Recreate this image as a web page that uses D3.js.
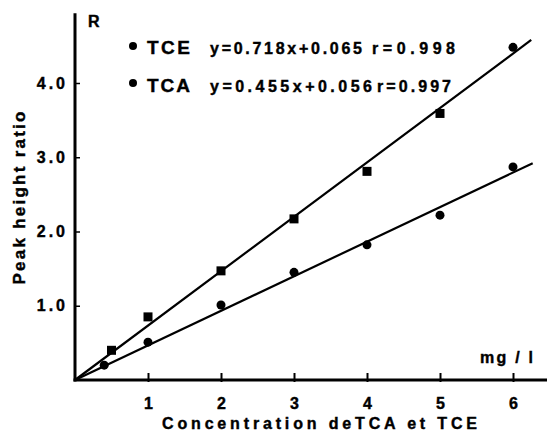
<!DOCTYPE html>
<html>
<head>
<meta charset="utf-8">
<script src="https://cdn.jsdelivr.net/npm/d3@7"></script>
<style>
  html, body { margin: 0; padding: 0; background: #fff; }
  svg { display: block; }
  text { font-family: "Liberation Sans", Arial, sans-serif; font-weight: bold; fill: #000; stroke: #000; stroke-width: 0.4px; }
</style>
</head>
<body>
<script>
const concentrations = [0.5, 1, 2, 3, 4, 5, 6];
const tceValues = [0.40, 0.85, 1.47, 2.17, 2.81, 3.59, 4.48];
const tceShapes = ["square", "square", "square", "square", "square", "square", "circle"];
const tcaConc = [0.4, 1, 2, 3, 4, 5, 6];
const tcaValues = [0.20, 0.51, 1.01, 1.45, 1.82, 2.22, 2.87];

// regression lines as drawn (start, end)
const tceFit = [[0, 0], [6.25, 4.58]];
const tcaFit = [[0, 0], [6.27, 2.92]];

const xTicks = [1, 2, 3, 4, 5, 6];
const yTicks = [1, 2, 3, 4];
const yTickLabels = ["1.0", "2.0", "3.0", "4.0"];

const W = 547, H = 433;

const svg = d3.select("body")
  .append("svg")
  .attr("width", W)
  .attr("height", H);

svg.append("rect").attr("width", W).attr("height", H).attr("fill", "#fff");

const x = d3.scaleLinear().domain([0, 6]).range([75, 513]);
const y = d3.scaleLinear().domain([0, 4]).range([380, 83]);

// axes
const xAxis = svg.append("g")
  .attr("transform", `translate(0,${y(0)})`)
  .call(d3.axisBottom(x).tickValues(xTicks).tickSize(-7).tickPadding(18).tickFormat(d3.format("d")));
xAxis.select(".domain").remove();
xAxis.selectAll(".tick line").attr("stroke", "#000").attr("stroke-width", 2).attr("y2", -7).attr("y1", 2);
xAxis.selectAll(".tick text")
  .attr("font-size", 16)
  .attr("font-family", "Liberation Sans, Arial, sans-serif")
  .attr("font-weight", "bold");

const yAxis = svg.append("g")
  .attr("transform", `translate(${x(0)},0)`)
  .call(d3.axisLeft(y).tickValues(yTicks).tickSize(-5).tickPadding(10).tickFormat((d, i) => yTickLabels[i]));
yAxis.select(".domain").remove();
yAxis.selectAll(".tick line").attr("stroke", "#000").attr("stroke-width", 1.5);
yAxis.selectAll(".tick text")
  .attr("font-size", 16)
  .attr("font-family", "Liberation Sans, Arial, sans-serif")
  .attr("font-weight", "bold")
  .attr("letter-spacing", 3)
  .attr("dx", 3);

// axis lines
svg.append("line")
  .attr("x1", x(0) - 1.5).attr("x2", W)
  .attr("y1", y(0)).attr("y2", y(0))
  .attr("stroke", "#000").attr("stroke-width", 3);
svg.append("line")
  .attr("x1", x(0)).attr("x2", x(0))
  .attr("y1", y(0) + 1.5).attr("y2", y(4.94))
  .attr("stroke", "#000").attr("stroke-width", 3);

// fit lines
const line = d3.line().x(d => x(d[0])).y(d => y(d[1]));
[tceFit, tcaFit].forEach(f => {
  svg.append("path")
    .attr("d", line(f))
    .attr("fill", "none")
    .attr("stroke", "#000")
    .attr("stroke-width", 2.2);
});

// points
const tce = concentrations.map((c, i) => ({ c, v: tceValues[i], s: tceShapes[i] }));
const tca = tcaConc.map((c, i) => ({ c, v: tcaValues[i] }));

svg.selectAll("rect.tce")
  .data(tce.filter(d => d.s === "square"))
  .enter()
  .append("rect")
  .attr("class", "tce")
  .attr("x", d => x(d.c) - 4.5)
  .attr("y", d => y(d.v) - 4.5)
  .attr("width", 9)
  .attr("height", 9)
  .attr("fill", "#000");

svg.selectAll("circle.tce")
  .data(tce.filter(d => d.s === "circle"))
  .enter()
  .append("circle")
  .attr("class", "tce")
  .attr("cx", d => x(d.c))
  .attr("cy", d => y(d.v))
  .attr("r", 4.5)
  .attr("fill", "#000");

svg.selectAll("circle.tca")
  .data(tca)
  .enter()
  .append("circle")
  .attr("class", "tca")
  .attr("cx", d => x(d.c))
  .attr("cy", d => y(d.v))
  .attr("r", 4.5)
  .attr("fill", "#000");

// legend
const legend = [
  { name: "TCE", eq: "y=0.718x+0.065", r: "r=0.998", base: 54, dot: 46, eqLen: 152, rX: 372, rLen: 83 },
  { name: "TCA", eq: "y=0.455x+0.056", r: "r=0.997", base: 92, dot: 83, eqLen: 162, rX: 377, rLen: 74 }
];
legend.forEach(l => {
  svg.append("circle").attr("cx", 133).attr("cy", l.dot).attr("r", 4).attr("fill", "#000");
  svg.append("text").attr("x", 147).attr("y", l.base)
    .attr("font-size", 19).attr("textLength", 43).attr("lengthAdjust", "spacing").text(l.name);
  svg.append("text").attr("x", 210).attr("y", l.base)
    .attr("font-size", 16).attr("textLength", l.eqLen).attr("lengthAdjust", "spacing").text(l.eq);
  svg.append("text").attr("x", l.rX).attr("y", l.base)
    .attr("font-size", 16).attr("textLength", l.rLen).attr("lengthAdjust", "spacing").text(l.r);
});

// labels
svg.append("text").attr("x", 88).attr("y", 27).attr("font-size", 16).text("R");
svg.append("text").attr("x", 480).attr("y", 363).attr("font-size", 16)
  .attr("textLength", 53).attr("lengthAdjust", "spacing").text("mg / l");
svg.append("text").attr("x", 162).attr("y", 429).attr("font-size", 16)
  .attr("textLength", 315).attr("lengthAdjust", "spacing").text("Concentration deTCA et TCE");
svg.append("text")
  .attr("transform", "translate(25,198) rotate(-90)")
  .attr("text-anchor", "middle")
  .attr("font-size", 17)
  .attr("textLength", 173).attr("lengthAdjust", "spacing")
  .text("Peak height ratio");
</script>
</body>
</html>
